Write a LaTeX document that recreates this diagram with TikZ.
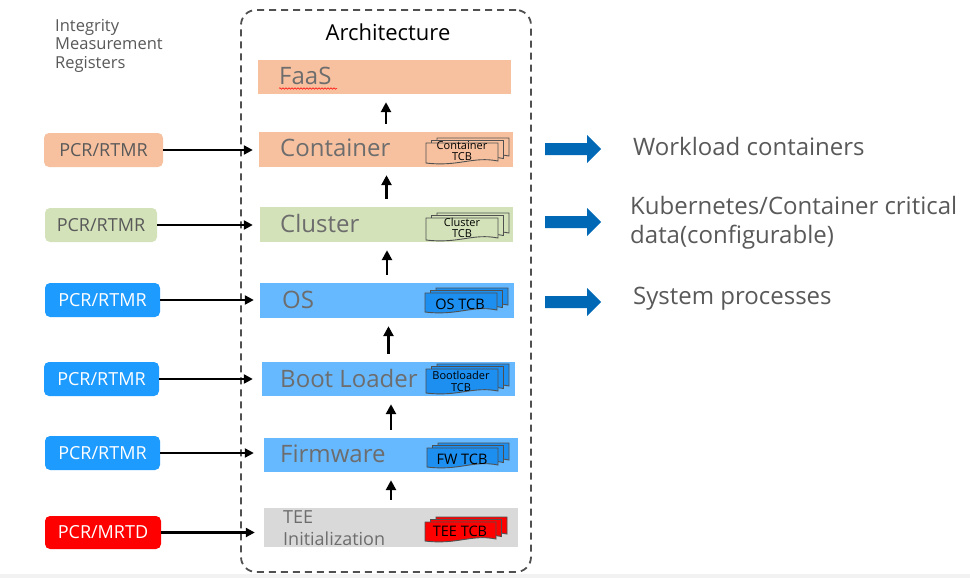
\documentclass[tikz,border=0pt]{standalone}
\usepackage{fontspec}
\setmainfont{Open Sans}
\usetikzlibrary{arrows.meta,decorations.pathmorphing}
\definecolor{salmon}{HTML}{F7C1A0}
\definecolor{lgreen}{HTML}{D3E2B9}
\definecolor{lblue}{HTML}{66B8FF}
\definecolor{pblue}{HTML}{1E9BFF}
\definecolor{tblue}{HTML}{1C8FF0}
\definecolor{tgray}{HTML}{D9D9D9}
\definecolor{txtgray}{HTML}{595959}
\definecolor{laygray}{HTML}{6D6D6D}
\definecolor{iblue}{HTML}{0068B5}
\definecolor{dashgray}{HTML}{505050}
\newcommand{\tcbdoc}[5]{%
  \filldraw[tcbline, fill=#5] ({#1},{#2}) -- ({#3},{#2}) -- ({#3},{(#4)-2})
    .. controls ({(#3)-0.35*((#3)-(#1))},{(#4)-7}) and ({(#1)+0.45*((#3)-(#1))},{(#4)+4}) .. ({#1},{#4}) -- cycle;}
\newcommand{\tcbstack}[5]{%
  \tcbdoc{(#1)+11}{(#2)-5}{(#3)+11}{(#4)-5}{#5}%
  \tcbdoc{(#1)+5.5}{(#2)-2.5}{(#3)+5.5}{(#4)-2.5}{#5}%
  \tcbdoc{#1}{#2}{#3}{#4}{#5}}
\newcommand{\bluearrow}[1]{%
  \fill[iblue] (545,{(#1)-6}) -- (587,{(#1)-6}) -- (587,{(#1)-14}) -- (601,{#1}) -- (587,{(#1)+14}) -- (587,{(#1)+6}) -- (545,{(#1)+6}) -- cycle;}
\begin{document}
\begin{tikzpicture}[x=1pt,y=-1pt,
  layer/.style={rectangle, inner sep=0pt, draw=none},
  laytext/.style={anchor=west, inner sep=0pt, text=laygray, font=\fontsize{24}{28}\selectfont},
  pcr/.style={rectangle, rounded corners=5pt, inner sep=0pt, minimum height=34pt, font=\fontsize{18}{20}\selectfont},
  tcbline/.style={draw=dashgray, line width=0.9pt},
  tcbtext/.style={inner sep=0pt, align=center, text=black},
  harrow/.style={line width=2.6pt, -{Triangle[length=9pt,width=9pt]}},
  varrow/.style={line width=2.8pt, -{Triangle[length=10pt,width=10pt]}, shorten <=8pt, shorten >=8pt},
  righttext/.style={anchor=west, inner sep=0pt, text=txtgray, align=left, font=\fontsize{24}{29}\selectfont}]
\useasboundingbox (0,0) rectangle (970,578);
\fill[white] (0,0) rectangle (970,578);
\fill[black!5] (0,574) rectangle (970,578);

% dashed container
\node[draw=dashgray, dashed, dash pattern=on 7pt off 5pt, line width=1.8pt, rounded corners=15pt,
  minimum width=290pt, minimum height=562pt, inner sep=0pt] (arch) at (386,291) {};
\node[inner sep=0pt, font=\fontsize{22}{24}\selectfont] (archtitle) at (388,32) {Architecture};

\node[anchor=north west, inner sep=0pt, align=left, text=txtgray, font=\fontsize{16.5}{18.5}\selectfont] (imr) at (55,19) {Integrity\\Measurement\\Registers};

% layers
\node[layer, fill=salmon, minimum width=253pt, minimum height=34pt] (faas) at (384.5,77) {};
\node[layer, fill=salmon, minimum width=254pt, minimum height=35pt] (cont) at (386,149.5) {};
\node[layer, fill=lgreen, minimum width=253pt, minimum height=35pt] (clus) at (386.5,224.5) {};
\node[layer, fill=lblue, minimum width=254pt, minimum height=35pt] (os) at (387,300.5) {};
\node[layer, fill=lblue, minimum width=253pt, minimum height=34pt] (boot) at (388.5,379) {};
\node[layer, fill=lblue, minimum width=254pt, minimum height=34pt] (firm) at (391,455) {};
\node[layer, fill=tgray, minimum width=254pt, minimum height=39pt] (tee) at (391,527.5) {};

\node[laytext] (faast) at (279,76) {FaaS};
\draw[red, line width=0.5pt, decorate, decoration={snake, amplitude=0.8pt, segment length=3pt}] (279,88.5) -- (337,88.5);
\node[laytext] (contt) at (280,148) {Container};
\node[laytext] (clust) at (280,223) {Cluster};
\node[laytext] (ost) at (282,300) {OS};
\node[laytext] (boott) at (280,378) {Boot Loader};
\node[laytext] (firmt) at (280,454) {Firmware};
\node[anchor=west, inner sep=0pt, align=left, text=laygray, font=\fontsize{18}{22}\selectfont] (teet) at (283,528) {TEE\\Initialization};

% TCB stacks
\tcbstack{426}{143}{498}{163}{salmon}
\node[tcbtext, font=\fontsize{11}{11}\selectfont] (conttcb) at (462,151.5) {Container\\TCB};
\tcbstack{426}{218}{498}{240}{lgreen}
\node[tcbtext, font=\fontsize{11}{11}\selectfont] (clustcb) at (462,227.5) {Cluster\\TCB};
\tcbstack{425}{293}{497}{312}{tblue}
\node[tcbtext, font=\fontsize{14.5}{16}\selectfont] (ostcb) at (460,304) {OS TCB};
\tcbstack{426}{369}{498}{393}{tblue}
\node[tcbtext, font=\fontsize{11}{12}\selectfont] (boottcb) at (461,381) {Bootloader\\TCB};
\tcbstack{427}{448}{498}{467}{tblue}
\node[tcbtext, font=\fontsize{14.5}{16}\selectfont] (firmtcb) at (462,459) {FW TCB};
\tcbstack{425}{522}{496}{541}{red}
\node[tcbtext, font=\fontsize{14.5}{16}\selectfont] (teetcb) at (460,531) {TEE TCB};

% vertical arrows
\draw[varrow] (cont.north) -- (cont.north |- faas.south);
\draw[varrow] (clus.north) -- (clus.north |- cont.south);
\draw[varrow] (os.north) -- (os.north |- clus.south);
\draw[varrow] (boot.north) -- (boot.north |- os.south);
\draw[varrow] (firm.north) -- (firm.north |- boot.south);
\draw[varrow] (tee.north) -- (tee.north |- firm.south);

% PCR boxes
\node[pcr, fill=salmon, text=txtgray, minimum width=119pt] (p1) at (103.5,150) {PCR/RTMR};
\node[pcr, fill=lgreen, text=txtgray, minimum width=112pt] (p2) at (101,225) {PCR/RTMR};
\node[pcr, fill=pblue, text=white, minimum width=115pt] (p3) at (102.5,300) {PCR/RTMR};
\node[pcr, fill=pblue, text=white, minimum width=115pt] (p4) at (101.5,379) {PCR/RTMR};
\node[pcr, fill=pblue, text=white, minimum width=115pt] (p5) at (102.5,453) {PCR/RTMR};
\node[pcr, fill=red, text=white, minimum width=116pt, minimum height=33pt] (p6) at (103,532.5) {PCR/MRTD};

\draw[harrow, shorten >=6pt] (p1.east) -- (p1.east -| cont.west);
\draw[harrow, shorten >=7pt] (p2.east) -- (p2.east -| clus.west);
\draw[harrow, shorten >=6pt] (p3.east) -- (p3.east -| os.west);
\draw[harrow, shorten >=9pt] (p4.east) -- (p4.east -| boot.west);
\draw[harrow, shorten >=10pt] (p5.east) -- (p5.east -| firm.west);
\draw[harrow, shorten >=9pt] (p6.east) -- (p6.east -| tee.west);

% right side
\bluearrow{149}
\bluearrow{222}
\bluearrow{302}
\node[righttext] (wl) at (633,146) {Workload containers};
\node[righttext] (k8s) at (630,222.5) {Kubernetes/Container critical\\data(configurable)};
\node[righttext] (sp) at (633,299) {System processes};
\end{tikzpicture}
\end{document}
